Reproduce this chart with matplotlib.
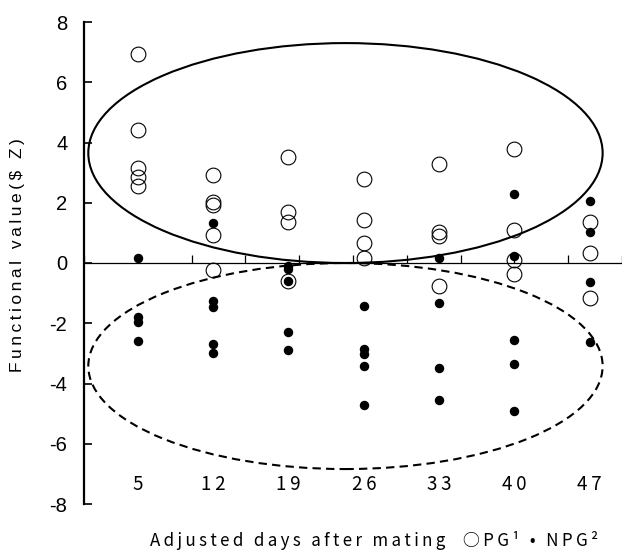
import matplotlib.pyplot as plt
from matplotlib.patches import Ellipse

plt.rcParams['font.family'] = ['Noto Sans CJK JP', 'DejaVu Sans']

# Adjusted days after mating
days = [5, 12, 19, 26, 33, 40, 47]

# PG (open circles), values per day
pg = [
    [6.93, 4.42, 3.15, 2.87, 2.56],
    [2.92, 2.04, 1.93, 0.93, -0.23],
    [3.51, 1.68, 1.37, -0.59],
    [2.79, 1.43, 0.65, 0.16],
    [3.27, 1.02, 0.90, -0.76],
    [3.79, 1.10, 0.10, -0.36],
    [1.37, 0.32, -1.17],
]

# NPG (filled dots), values per day
npg = [
    [0.17, -1.80, -1.95, -2.58],
    [1.34, -1.25, -1.45, -2.69, -2.98],
    [-0.10, -0.21, -0.59, -2.30, -2.89],
    [-1.43, -2.87, -3.02, -3.42, -4.71],
    [0.16, -1.34, -3.47, -4.55],
    [2.28, 0.23, -2.54, -3.34, -4.91],
    [2.07, 1.04, -0.62, -2.62],
]

# group ellipses: (centre day, centre value, width in days, height in values)
pg_ellipse = (24.3, 3.65, 47.8, 7.3)
npg_ellipse = (24.3, -3.42, 47.8, 6.84)

xlabel = 'Adjusted days after mating  \u25cbPG\u00b9 \u2022 NPG\u00b2'
ylabel = 'Functional value($ Z)'


def spaced(s):
    # wide letter spacing like the original
    return '\u2009'.join(s)


fig = plt.figure(figsize=(6.22, 5.51), dpi=100)
ax = fig.add_axes([84 / 622, 47 / 551, 538 / 622, 482 / 551])

for d, vals in zip(days, pg):
    ax.plot([d] * len(vals), vals, 'o', ms=10.6, mfc='none', mec='black', mew=0.8)
for d, vals in zip(days, npg):
    ax.plot([d] * len(vals), vals, 'o', ms=5.8, color='black')

cx, cy, w, h = pg_ellipse
ax.add_patch(Ellipse((cx, cy), w, h, fill=False, ec='black', lw=1.5))
cx, cy, w, h = npg_ellipse
ax.add_patch(Ellipse((cx, cy), w, h, fill=False, ec='black', lw=1.5,
                     ls=(0, (4, 2.5))))

ax.set_xlim(0, 50)
ax.set_ylim(-8, 8)

ax.spines['top'].set_visible(False)
ax.spines['right'].set_visible(False)
ax.spines['left'].set_linewidth(1.6)
ax.spines['bottom'].set_position(('data', 0))
ax.spines['bottom'].set_linewidth(0.9)

ax.set_yticks(range(-8, 9, 2))
ax.set_yticklabels([str(v) for v in range(-8, 9, 2)], family='Liberation Sans')
ax.tick_params(axis='y', direction='in', length=6, width=1.2, labelsize=14.5, pad=12)
ax.set_xticks(range(0, 51, 5))
ax.set_xticklabels([])
ax.tick_params(axis='x', direction='in', length=6, width=0.9)

for d in days:
    ax.text(d, -7.35, spaced(str(d)), ha='center', va='center', fontsize=13.5)

fig.text(18 / 622, (551 - 255) / 551, spaced(ylabel), rotation=90,
         ha='center', va='center', fontsize=12.5,
         family=['Liberation Sans', 'DejaVu Sans'])
fig.text(374 / 622, (551 - 540) / 551, spaced(xlabel),
         ha='center', va='center', fontsize=12.2)

fig.savefig('out.png', dpi=100)
